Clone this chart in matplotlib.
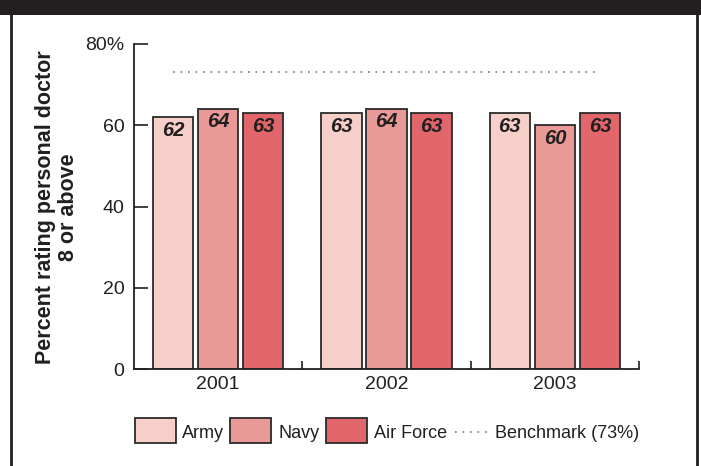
import matplotlib
matplotlib.use("Agg")
import matplotlib.pyplot as plt
import numpy as np
from matplotlib.patches import Rectangle
from matplotlib.lines import Line2D

years = ["2001", "2002", "2003"]
series = ["Army", "Navy", "Air Force"]
army = [62, 63, 63]
navy = [64, 64, 60]
air_force = [63, 63, 63]
benchmark = 73
benchmark_label = "Benchmark (73%)"
yticks = [0, 20, 40, 60, 80]
ytick_labels = ["0", "20", "40", "60", "80%"]

colors = ["#F6CFC9", "#E99A96", "#E0666C"]
edge = "#2b2b2b"
txt = "#231F20"
fam = ["Liberation Sans", "DejaVu Sans"]

fig = plt.figure(figsize=(7.01, 4.66), dpi=100)
ax = fig.add_axes([134/701, 1-369/466, (639-134)/701, (369-44)/466])

x = np.arange(len(years))
w = 0.24
offs = [-0.268, 0.0, 0.268]
for vals, off, c in zip([army, navy, air_force], offs, colors):
    bars = ax.bar(x + off, vals, width=w, color=c, edgecolor=edge, linewidth=1.3, zorder=2)
    for b, v in zip(bars, vals):
        ax.annotate(str(v), (b.get_x() + b.get_width()/2, v), xytext=(0, -2.5),
                    textcoords="offset points", ha="center", va="top",
                    fontsize=14.5, fontweight="bold", fontstyle="italic",
                    color=txt, family=fam, zorder=3)

ax.plot([x[0] + offs[0], x[-1] + offs[-1]], [benchmark, benchmark], linestyle=(0, (1, 3.5)),
        color="#777777", linewidth=1.2, zorder=1)

ax.set_xlim(-0.5, 2.5)
ax.set_ylim(0, 80)
ax.set_yticks(yticks)
ax.set_yticklabels(ytick_labels, family=fam, fontsize=14, color=txt)
ax.tick_params(axis="y", direction="in", length=10, width=1.2, pad=7, color=txt)

ax.set_xticks([0.5, 1.5, 2.5])
ax.set_xticklabels([])
ax.tick_params(axis="x", which="major", direction="in", length=6, width=1.2, color=txt)
ax.set_xticks(x, minor=True)
ax.set_xticklabels(years, minor=True, family=fam, fontsize=14, color=txt)
ax.tick_params(axis="x", which="minor", length=0, pad=5)

for s in ["top", "right"]:
    ax.spines[s].set_visible(False)
for s in ["left", "bottom"]:
    ax.spines[s].set_linewidth(1.3)
    ax.spines[s].set_color(txt)

fig.text(57/701, 1-207/466, "Percent rating personal doctor\n8 or above", rotation=90,
         ha="center", va="center", fontsize=15.5, fontweight="bold",
         family=fam, color=txt, linespacing=1.1)

# legend (manual layout in figure pixels)
H = 466.0
W = 701.0
ly = 430.5
patch_x = [135, 230, 326]
text_x = [182, 278, 374]
for px, tx, c, name in zip(patch_x, text_x, colors, series):
    fig.add_artist(Rectangle((px/W, 1-(ly+12.5)/H), 41/W, 25/H, transform=fig.transFigure,
                             facecolor=c, edgecolor=edge, linewidth=1.3))
    fig.text(tx/W, 1-(ly+3)/H, name, ha="left", va="center", fontsize=13, family=fam, color=txt)
fig.add_artist(Line2D([455/W, 488/W], [1-(ly+1)/H, 1-(ly+1)/H], transform=fig.transFigure,
                      linestyle=(0, (1, 3.5)), color="#777777", linewidth=1.2))
fig.text(495/W, 1-(ly+3)/H, benchmark_label, ha="left", va="center", fontsize=13, family=fam, color=txt)

# frame
fig.add_artist(Rectangle((0, 1-15/466), 1, 15/466, transform=fig.transFigure,
                         facecolor=txt, edgecolor="none"))
fig.add_artist(Line2D([11/701, 11/701], [0, 1], transform=fig.transFigure, color=txt, linewidth=2))
fig.add_artist(Line2D([697/701, 697/701], [0, 1], transform=fig.transFigure, color=txt, linewidth=2))

fig.savefig("out.png", dpi=100)
